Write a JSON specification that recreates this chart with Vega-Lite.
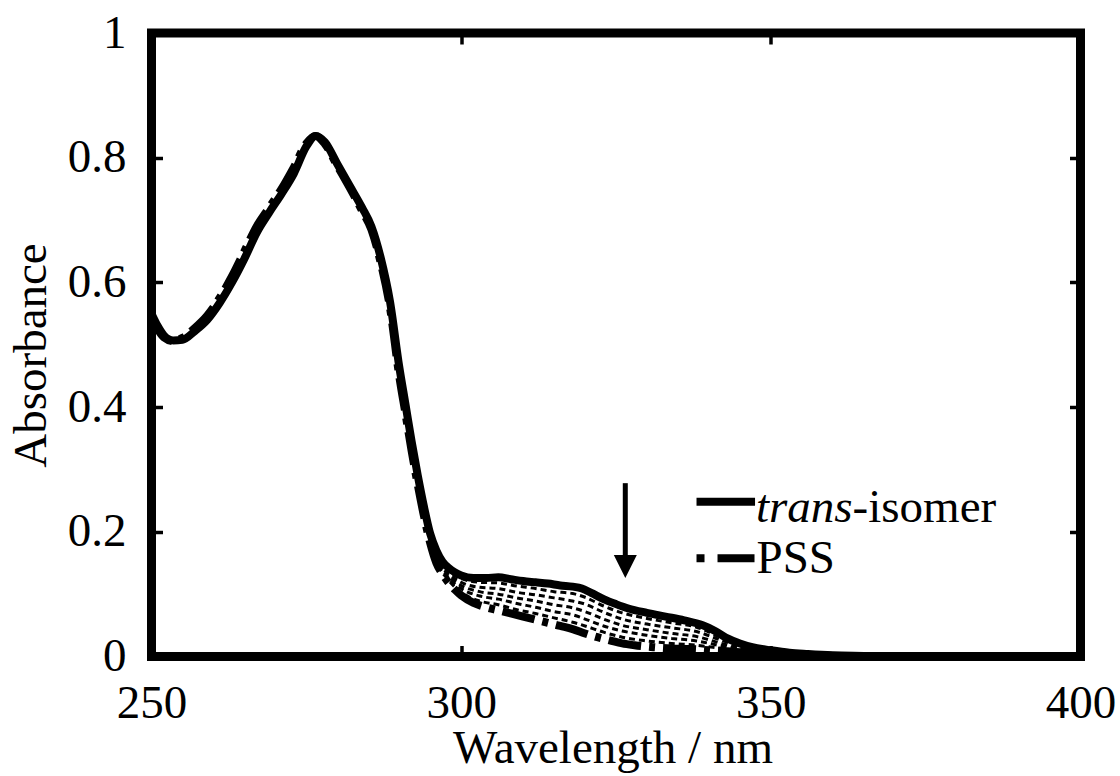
{
  "$schema": "https://vega.github.io/schema/vega-lite/v6.json",
  "width": 929,
  "height": 623.5,
  "autosize": {"type": "none"},
  "padding": {"left": 151.5, "top": 33, "right": 39.5, "bottom": 119.5},
  "background": "white",
  "config": {
    "view": {"stroke": "black", "strokeWidth": 9},
    "font": "Liberation Serif",
    "axis": {
      "labelFont": "Liberation Serif",
      "titleFont": "Liberation Serif",
      "labelFontSize": 47,
      "titleFontSize": 47,
      "labelColor": "black",
      "titleColor": "black",
      "titleFontWeight": "normal",
      "tickColor": "black",
      "tickWidth": 3.5,
      "tickSize": -11,
      "grid": false,
      "domain": false,
      "labelFlush": false,
      "labelOverlap": false
    }
  },
  "datasets": {
    "trans": [
      {"wl": 250, "A": 0.550}, {"wl": 251, "A": 0.530}, {"wl": 252, "A": 0.515}, {"wl": 253.5, "A": 0.507},
      {"wl": 255, "A": 0.508}, {"wl": 257, "A": 0.522}, {"wl": 259, "A": 0.540}, {"wl": 261, "A": 0.567},
      {"wl": 263, "A": 0.600}, {"wl": 265, "A": 0.638}, {"wl": 267, "A": 0.680}, {"wl": 269, "A": 0.712},
      {"wl": 271, "A": 0.742}, {"wl": 273, "A": 0.775}, {"wl": 275, "A": 0.818}, {"wl": 276.5, "A": 0.835},
      {"wl": 278, "A": 0.825}, {"wl": 280, "A": 0.790}, {"wl": 282, "A": 0.755}, {"wl": 284, "A": 0.720},
      {"wl": 285.5, "A": 0.690}, {"wl": 287, "A": 0.640}, {"wl": 288.5, "A": 0.570}, {"wl": 290, "A": 0.465},
      {"wl": 291, "A": 0.405}, {"wl": 292, "A": 0.345}, {"wl": 293, "A": 0.290}, {"wl": 294, "A": 0.240},
      {"wl": 295, "A": 0.197}, {"wl": 296, "A": 0.170}, {"wl": 297, "A": 0.152}, {"wl": 298, "A": 0.142},
      {"wl": 299, "A": 0.135}, {"wl": 300, "A": 0.130}, {"wl": 302, "A": 0.126}, {"wl": 304, "A": 0.126},
      {"wl": 306, "A": 0.127}, {"wl": 308, "A": 0.124}, {"wl": 310, "A": 0.121}, {"wl": 312, "A": 0.119},
      {"wl": 314, "A": 0.117}, {"wl": 316, "A": 0.114}, {"wl": 318, "A": 0.112}, {"wl": 319.5, "A": 0.109},
      {"wl": 321, "A": 0.102}, {"wl": 323, "A": 0.092}, {"wl": 325, "A": 0.084}, {"wl": 327, "A": 0.077},
      {"wl": 330, "A": 0.070}, {"wl": 333, "A": 0.064}, {"wl": 336, "A": 0.058}, {"wl": 339, "A": 0.050},
      {"wl": 341, "A": 0.041}, {"wl": 343, "A": 0.029}, {"wl": 345, "A": 0.021}, {"wl": 347, "A": 0.015},
      {"wl": 350, "A": 0.010}, {"wl": 353, "A": 0.006}, {"wl": 356, "A": 0.004}, {"wl": 360, "A": 0.002},
      {"wl": 365, "A": 0.001}, {"wl": 370, "A": 0}, {"wl": 380, "A": 0}, {"wl": 390, "A": 0}, {"wl": 400, "A": 0}
    ],
    "pss": [
      {"wl": 250, "A": 0.545}, {"wl": 251, "A": 0.525}, {"wl": 252, "A": 0.512}, {"wl": 253.5, "A": 0.506},
      {"wl": 255, "A": 0.511}, {"wl": 257, "A": 0.527}, {"wl": 259, "A": 0.547}, {"wl": 261, "A": 0.575},
      {"wl": 263, "A": 0.610}, {"wl": 265, "A": 0.650}, {"wl": 267, "A": 0.690}, {"wl": 269, "A": 0.720},
      {"wl": 271, "A": 0.750}, {"wl": 273, "A": 0.785}, {"wl": 275, "A": 0.823}, {"wl": 276.5, "A": 0.835},
      {"wl": 278, "A": 0.822}, {"wl": 280, "A": 0.787}, {"wl": 282, "A": 0.752}, {"wl": 284, "A": 0.715},
      {"wl": 285.5, "A": 0.685}, {"wl": 287, "A": 0.632}, {"wl": 288.5, "A": 0.560}, {"wl": 290, "A": 0.450},
      {"wl": 291, "A": 0.390}, {"wl": 292, "A": 0.330}, {"wl": 293, "A": 0.275}, {"wl": 294, "A": 0.225},
      {"wl": 295, "A": 0.182}, {"wl": 296, "A": 0.150}, {"wl": 297, "A": 0.132}, {"wl": 298, "A": 0.118},
      {"wl": 299, "A": 0.107}, {"wl": 300, "A": 0.098}, {"wl": 302, "A": 0.086}, {"wl": 304, "A": 0.079},
      {"wl": 306, "A": 0.074}, {"wl": 308, "A": 0.069}, {"wl": 310, "A": 0.064}, {"wl": 312, "A": 0.059},
      {"wl": 314, "A": 0.054}, {"wl": 316, "A": 0.049}, {"wl": 318, "A": 0.044}, {"wl": 320, "A": 0.037},
      {"wl": 322, "A": 0.031}, {"wl": 324, "A": 0.026}, {"wl": 326, "A": 0.021}, {"wl": 328, "A": 0.018},
      {"wl": 331, "A": 0.015}, {"wl": 334, "A": 0.013}, {"wl": 337, "A": 0.012}, {"wl": 340, "A": 0.010},
      {"wl": 345, "A": 0.007}, {"wl": 350, "A": 0.004}, {"wl": 355, "A": 0.002}, {"wl": 360, "A": 0.001},
      {"wl": 370, "A": 0}, {"wl": 380, "A": 0}, {"wl": 400, "A": 0}
    ],
    "mid": [
      {"run": 1, "wl": 292, "A": 0.333}, {"run": 1, "wl": 294, "A": 0.228}, {"run": 1, "wl": 296, "A": 0.153}, {"run": 1, "wl": 298, "A": 0.122},
      {"run": 1, "wl": 300, "A": 0.103}, {"run": 1, "wl": 303, "A": 0.089}, {"run": 1, "wl": 306, "A": 0.083}, {"run": 1, "wl": 309, "A": 0.075},
      {"run": 1, "wl": 312, "A": 0.069}, {"run": 1, "wl": 315, "A": 0.062}, {"run": 1, "wl": 318, "A": 0.055}, {"run": 1, "wl": 320, "A": 0.049},
      {"run": 1, "wl": 323, "A": 0.039}, {"run": 1, "wl": 326, "A": 0.031}, {"run": 1, "wl": 330, "A": 0.025}, {"run": 1, "wl": 334, "A": 0.021},
      {"run": 1, "wl": 338, "A": 0.018}, {"run": 1, "wl": 342, "A": 0.013}, {"run": 1, "wl": 346, "A": 0.008}, {"run": 1, "wl": 350, "A": 0.005},
      {"run": 1, "wl": 355, "A": 0.002}, {"run": 1, "wl": 360, "A": 0.001},
      {"run": 2, "wl": 292, "A": 0.335}, {"run": 2, "wl": 294, "A": 0.230}, {"run": 2, "wl": 296, "A": 0.157}, {"run": 2, "wl": 298, "A": 0.126},
      {"run": 2, "wl": 300, "A": 0.109}, {"run": 2, "wl": 303, "A": 0.097}, {"run": 2, "wl": 306, "A": 0.092}, {"run": 2, "wl": 309, "A": 0.085},
      {"run": 2, "wl": 312, "A": 0.079}, {"run": 2, "wl": 315, "A": 0.072}, {"run": 2, "wl": 318, "A": 0.067}, {"run": 2, "wl": 320, "A": 0.060},
      {"run": 2, "wl": 323, "A": 0.049}, {"run": 2, "wl": 326, "A": 0.041}, {"run": 2, "wl": 330, "A": 0.034}, {"run": 2, "wl": 334, "A": 0.029},
      {"run": 2, "wl": 338, "A": 0.025}, {"run": 2, "wl": 342, "A": 0.017}, {"run": 2, "wl": 346, "A": 0.010}, {"run": 2, "wl": 350, "A": 0.006},
      {"run": 2, "wl": 355, "A": 0.003}, {"run": 2, "wl": 360, "A": 0.001},
      {"run": 3, "wl": 292, "A": 0.338}, {"run": 3, "wl": 294, "A": 0.233}, {"run": 3, "wl": 296, "A": 0.160}, {"run": 3, "wl": 298, "A": 0.130},
      {"run": 3, "wl": 300, "A": 0.114}, {"run": 3, "wl": 303, "A": 0.104}, {"run": 3, "wl": 306, "A": 0.100}, {"run": 3, "wl": 309, "A": 0.094},
      {"run": 3, "wl": 312, "A": 0.089}, {"run": 3, "wl": 315, "A": 0.083}, {"run": 3, "wl": 318, "A": 0.078}, {"run": 3, "wl": 320, "A": 0.072},
      {"run": 3, "wl": 323, "A": 0.060}, {"run": 3, "wl": 326, "A": 0.050}, {"run": 3, "wl": 330, "A": 0.043}, {"run": 3, "wl": 334, "A": 0.037},
      {"run": 3, "wl": 338, "A": 0.032}, {"run": 3, "wl": 342, "A": 0.021}, {"run": 3, "wl": 346, "A": 0.011}, {"run": 3, "wl": 350, "A": 0.007},
      {"run": 3, "wl": 355, "A": 0.003}, {"run": 3, "wl": 360, "A": 0.001},
      {"run": 4, "wl": 292, "A": 0.340}, {"run": 4, "wl": 294, "A": 0.235}, {"run": 4, "wl": 296, "A": 0.163}, {"run": 4, "wl": 298, "A": 0.134},
      {"run": 4, "wl": 300, "A": 0.119}, {"run": 4, "wl": 303, "A": 0.111}, {"run": 4, "wl": 306, "A": 0.109}, {"run": 4, "wl": 309, "A": 0.103},
      {"run": 4, "wl": 312, "A": 0.099}, {"run": 4, "wl": 315, "A": 0.094}, {"run": 4, "wl": 318, "A": 0.089}, {"run": 4, "wl": 320, "A": 0.084},
      {"run": 4, "wl": 323, "A": 0.071}, {"run": 4, "wl": 326, "A": 0.060}, {"run": 4, "wl": 330, "A": 0.052}, {"run": 4, "wl": 334, "A": 0.046},
      {"run": 4, "wl": 338, "A": 0.040}, {"run": 4, "wl": 342, "A": 0.026}, {"run": 4, "wl": 346, "A": 0.013}, {"run": 4, "wl": 350, "A": 0.008},
      {"run": 4, "wl": 355, "A": 0.004}, {"run": 4, "wl": 360, "A": 0.001},
      {"run": 5, "wl": 292, "A": 0.343}, {"run": 5, "wl": 294, "A": 0.238}, {"run": 5, "wl": 296, "A": 0.167}, {"run": 5, "wl": 298, "A": 0.138},
      {"run": 5, "wl": 300, "A": 0.125}, {"run": 5, "wl": 303, "A": 0.119}, {"run": 5, "wl": 306, "A": 0.118}, {"run": 5, "wl": 309, "A": 0.113},
      {"run": 5, "wl": 312, "A": 0.109}, {"run": 5, "wl": 315, "A": 0.104}, {"run": 5, "wl": 318, "A": 0.101}, {"run": 5, "wl": 320, "A": 0.095},
      {"run": 5, "wl": 323, "A": 0.081}, {"run": 5, "wl": 326, "A": 0.070}, {"run": 5, "wl": 330, "A": 0.061}, {"run": 5, "wl": 334, "A": 0.054},
      {"run": 5, "wl": 338, "A": 0.047}, {"run": 5, "wl": 342, "A": 0.030}, {"run": 5, "wl": 346, "A": 0.015}, {"run": 5, "wl": 350, "A": 0.009},
      {"run": 5, "wl": 355, "A": 0.004}, {"run": 5, "wl": 360, "A": 0.001}
    ],
    "arrowShaft": [{"x": 326.5, "y": 0.278, "y2": 0.16}],
    "arrowHead": [{"x": 326.5, "y": 0.1443}],
    "legTrans": [{"x": 338.0, "x2": 347.45, "y": 0.248}],
    "legPss": [{"x": 338.0, "x2": 347.45, "y": 0.1575}],
    "labItalic": [{"x": 363.2, "y": 0.216, "t": "trans"}],
    "labPlain": [{"x": 363.2, "y": 0.216, "t": "-isomer"}, {"x": 347.7, "y": 0.1334, "t": "PSS"}]
  },
  "resolve": {"axis": {"x": "independent", "y": "independent"}},
  "layer": [
    {
      "data": {"name": "mid"},
      "mark": {"type": "line", "color": "black", "strokeWidth": 3, "strokeDash": [6, 4], "interpolate": "monotone"},
      "encoding": {
        "x": {
          "field": "wl", "type": "quantitative",
          "scale": {"domain": [250, 400], "nice": false, "zero": false},
          "axis": {
            "values": [250, 300, 350, 400], "format": "d", "title": "Wavelength / nm",
            "labelBaseline": "alphabetic", "labelPadding": 71.5, "labelAlign": "center",
            "titleX": 461, "titleY": 106, "titleBaseline": "alphabetic", "titleAlign": "center"
          }
        },
        "y": {
          "field": "A", "type": "quantitative",
          "scale": {"domain": [0, 1], "nice": false, "zero": false},
          "axis": {
            "values": [0, 0.2, 0.4, 0.6, 0.8, 1], "format": "~g", "title": "Absorbance",
            "labelPadding": 36.5, "labelBaseline": "middle", "labelAlign": "right",
            "titleX": -106.5, "titleY": 322, "titleAngle": -90, "titleBaseline": "alphabetic", "titleAlign": "center"
          }
        },
        "detail": {"field": "run", "type": "nominal"}
      }
    },
    {
      "data": {"name": "pss"},
      "mark": {"type": "line", "color": "black", "strokeWidth": 8, "strokeDash": [33, 8, 6, 8], "interpolate": "monotone"},
      "encoding": {
        "x": {"field": "wl", "type": "quantitative", "axis": {"orient": "top", "values": [250, 300, 350, 400], "labels": false, "title": null}},
        "y": {"field": "A", "type": "quantitative", "axis": {"orient": "right", "values": [0, 0.2, 0.4, 0.6, 0.8, 1], "labels": false, "title": null}}
      }
    },
    {
      "data": {"name": "trans"},
      "mark": {"type": "line", "color": "black", "strokeWidth": 8, "strokeJoin": "round", "interpolate": "monotone"},
      "encoding": {
        "x": {"field": "wl", "type": "quantitative", "axis": null},
        "y": {"field": "A", "type": "quantitative", "axis": null}
      }
    },
    {
      "data": {"name": "arrowShaft"},
      "mark": {"type": "rule", "color": "black", "strokeWidth": 5},
      "encoding": {
        "x": {"field": "x", "type": "quantitative", "axis": null},
        "y": {"field": "y", "type": "quantitative", "axis": null},
        "y2": {"field": "y2"}
      }
    },
    {
      "data": {"name": "arrowHead"},
      "mark": {"type": "point", "shape": "M-1,-1L1,-1L0,1Z", "size": 529, "filled": true, "color": "black", "opacity": 1, "strokeWidth": 0},
      "encoding": {
        "x": {"field": "x", "type": "quantitative", "axis": null},
        "y": {"field": "y", "type": "quantitative", "axis": null}
      }
    },
    {
      "data": {"name": "legTrans"},
      "mark": {"type": "rule", "color": "black", "strokeWidth": 8},
      "encoding": {
        "x": {"field": "x", "type": "quantitative", "axis": null},
        "x2": {"field": "x2"},
        "y": {"field": "y", "type": "quantitative", "axis": null}
      }
    },
    {
      "data": {"name": "legPss"},
      "mark": {"type": "rule", "color": "black", "strokeWidth": 8, "strokeDash": [8, 13, 37, 13]},
      "encoding": {
        "x": {"field": "x", "type": "quantitative", "axis": null},
        "x2": {"field": "x2"},
        "y": {"field": "y", "type": "quantitative", "axis": null}
      }
    },
    {
      "data": {"name": "labItalic"},
      "mark": {"type": "text", "font": "Liberation Serif", "fontSize": 47, "fontStyle": "italic", "align": "right", "baseline": "alphabetic", "color": "black"},
      "encoding": {
        "x": {"field": "x", "type": "quantitative", "axis": null},
        "y": {"field": "y", "type": "quantitative", "axis": null},
        "text": {"field": "t"}
      }
    },
    {
      "data": {"name": "labPlain"},
      "mark": {"type": "text", "font": "Liberation Serif", "fontSize": 47, "align": "left", "baseline": "alphabetic", "color": "black"},
      "encoding": {
        "x": {"field": "x", "type": "quantitative", "axis": null},
        "y": {"field": "y", "type": "quantitative", "axis": null},
        "text": {"field": "t"}
      }
    }
  ]
}
